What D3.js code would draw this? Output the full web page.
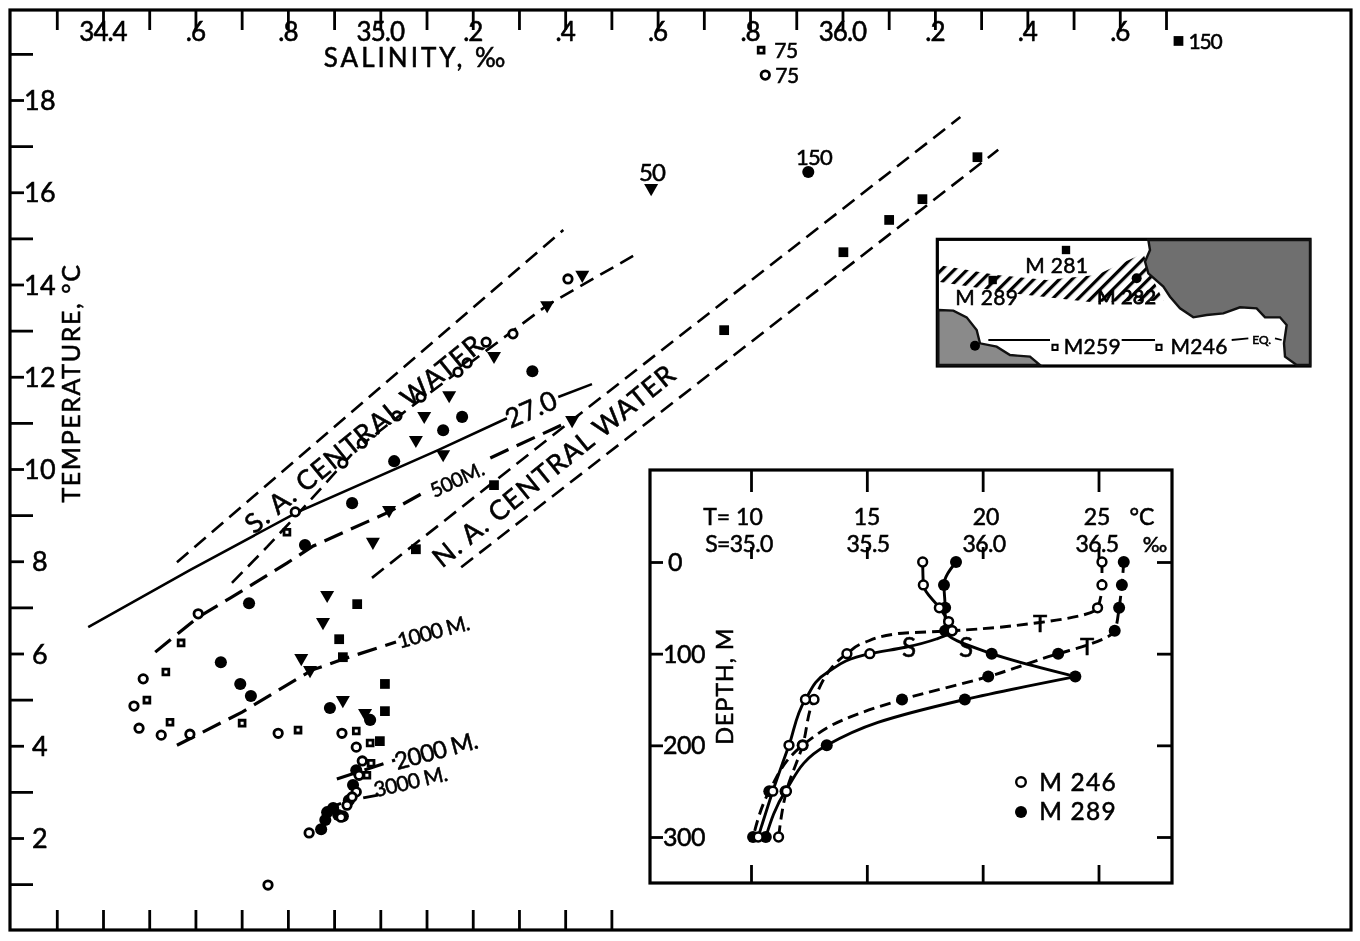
<!DOCTYPE html>
<html><head><meta charset="utf-8">
<style>
html,body{margin:0;padding:0;background:#fff}
svg{display:block;filter:blur(.45px)}
text{font-family:"Lato","Open Sans",sans-serif;fill:#000;stroke:#000;stroke-width:.55px}
.domain{display:none}
</style>
<script src="https://cdn.jsdelivr.net/npm/d3@7/dist/d3.min.js"></script>
</head><body><svg id="c" width="1360" height="941"></svg>
<script>
// ---------- main T-S diagram data: [salinity, temperature]
const salinityTicks=[34.3,34.4,34.5,34.6,34.7,34.8,34.9,35.0,35.1,35.2,35.3,35.4,35.5,35.6,35.7,35.8,35.9,36.0,36.1,36.2,36.3,36.4,36.5,36.6,36.7];
const bottomTicks=[34.3,34.4,34.5,34.6,34.7,34.8,34.9,35.0,35.1,35.2,35.3,35.4,35.5];
const salinityLabels=[[34.4,"34.4"],[34.6,".6"],[34.8,".8"],[35.0,"35.0"],[35.2,".2"],[35.4,".4"],[35.6,".6"],[35.8,".8"],[36.0,"36.0"],[36.2,".2"],[36.4,".4"],[36.6,".6"]];
const tempTicksMajor=[18,16,14,12,10,8,6,4,2];
const tempTicksMinor=[19,17,15,13,11,9,7,5,3,1];

const openCircles=[[34.487,5.45],[34.467,4.86],[34.478,4.38],[34.526,4.23],[34.588,4.25],[34.606,6.86],[34.816,9.07],[34.779,4.27],[34.917,4.27],[34.948,3.97],[34.961,3.67],[34.954,3.36],[34.948,3.0],[34.939,2.89],[34.928,2.71],[34.915,2.45],[34.846,2.11],[34.757,0.98],[34.919,10.13],[34.961,10.56],[35.036,11.15],[35.088,11.56],[35.168,12.10],[35.188,12.30],[35.229,12.75],[35.287,12.93],[35.406,14.12],[35.833,18.54]];
const openSquares=[[34.569,6.23],[34.536,5.60],[34.495,4.99],[34.545,4.51],[34.701,4.49],[34.822,4.34],[34.948,4.32],[34.978,4.06],[34.980,3.62],[34.971,3.36],[34.798,8.63],[35.824,19.08]];
const filledCircles=[[35.329,12.12],[35.177,11.13],[35.136,10.84],[35.030,10.17],[34.939,9.26],[34.837,8.35],[34.716,7.09],[34.655,5.81],[34.697,5.34],[34.720,5.08],[34.891,4.82],[34.978,4.56],[35.926,16.44],[34.872,2.19],[34.881,2.39],[34.885,2.56],[34.898,2.65],[34.909,2.50],[34.919,2.47],[34.932,2.82],[34.941,3.15],[34.948,3.47]];
const filledTriangles=[[35.586,16.09],[35.437,14.21],[35.361,13.55],[35.246,12.45],[35.149,11.60],[35.095,11.15],[35.077,10.63],[35.136,10.32],[35.019,9.11],[34.984,8.42],[34.885,7.27],[34.876,6.68],[34.829,5.90],[34.848,5.64],[34.919,4.99],[34.967,4.71],[35.415,11.06]];
const filledSquares=[[36.727,19.28],[36.292,16.76],[36.173,15.85],[36.101,15.40],[36.002,14.70],[35.744,13.01],[35.246,9.65],[35.077,8.26],[34.950,7.07],[34.911,6.31],[34.919,5.92],[35.010,5.34],[35.010,4.75],[34.999,4.10]];

const saUpper=[[34.560,7.98],[35.396,15.18]];
const saLower=[[34.679,7.53],[34.755,8.31],[34.833,9.15],[34.950,10.45],[35.058,11.28],[35.222,12.51],[35.361,13.55],[35.547,14.62]];
const naUpper=[[34.982,7.64],[35.415,11.06],[36.255,17.63]];
const naLower=[[35.175,7.87],[36.337,16.92]];
const sigmaA=[[34.368,6.57],[34.588,7.81],[34.822,9.07],[35.125,10.41],[35.274,11.10]];
const sigmaB=[[35.385,11.56],[35.458,11.84]];
const m500A=[[34.513,6.03],[34.606,6.79],[34.675,7.20],[34.798,7.96],[34.855,8.33],[35.019,9.07],[35.103,9.54]];
const m500B=[[35.238,10.24],[35.415,11.06]];
const m1000=[[34.560,4.01],[34.701,4.73],[34.852,5.64],[34.926,5.90],[35.034,6.25]];
const m2000=[[34.906,3.28],[35.032,3.69]];
const m3000=[[34.963,2.87],[34.995,2.93]];
const clusterTail=[[34.880,2.62],[34.915,2.75]];

// ---------- inset profile data
const insetDepthTicks=[0,100,200,300];
const insetTempTicks=[10,15,20,25];
const stdDepths=[0,25,50,65,75,100,125,150,200,250,300];
const m246T={d:[0,25,50,66,75,78,88,100,150,200,250,300],v:[25.15,25.15,24.96,22.47,18.68,16.37,14.88,14.14,12.72,12.23,11.53,11.19]};
const m246S={d:[0,25,50,65,75,84,93,100,120,150,200,250,300],v:[35.741,35.744,35.813,35.853,35.868,35.80,35.667,35.513,35.332,35.235,35.164,35.094,35.031]};
const m289T={d:[0,25,50,75,91,100,125,150,172,200,250,300],v:[26.09,26.01,25.89,25.70,24.48,23.26,20.24,16.52,13.99,12.23,10.79,10.09]};
const m289Sa={d:[0,25,50,75,100,125],v:[35.885,35.833,35.838,35.838,36.039,36.400]};
const m289Sb={d:[125,150,175,200,250,300],v:[36.400,35.923,35.548,35.327,35.149,35.064]};

// ---------- inset map outline data (map units)
const landRight=[[655,30],[660,60],[645,95],[655,130],[700,170],[720,200],[750,235],[790,262],[830,255],[880,250],[930,232],[980,235],[1005,262],[1050,262],[1070,285],[1062,340],[1065,380],[1100,405],[1140,405],[1140,30]];
const landLeft=[[25,240],[70,242],[110,262],[140,300],[150,340],[200,350],[240,375],[300,380],[330,405],[25,405]];
const hatchBand=[[25,105],[200,135],[350,150],[500,135],[640,70],[660,130],[700,212],[480,216],[250,190],[25,155]];
const equatorRuns=[[[175,330],[360,330]],[[575,330],[675,330]],[[905,330],[955,325]],[[1035,325],[1055,330]]];
const mapStations=[["M 281",408,60,"fsq",380,130],["M 289",188,150,"fsq",170,226],["M259",375,352,"osq",487,372],["M246",687,352,"osq",807,372]];

// ---------- scales
const x=d3.scaleLinear().domain([34.4,36.7]).range([103,1166]);
const y=d3.scaleLinear().domain([18,2]).range([100,838]);
const svg=d3.select("#c");
svg.append("rect").attr("width",1360).attr("height",941).attr("fill","#fff");
const FL=10,FT=10,FR=1351,FB=930;
svg.append("rect").attr("x",FL).attr("y",FT).attr("width",FR-FL).attr("height",FB-FT).attr("fill","none").attr("stroke","#000").attr("stroke-width",3.2);

function styleAxis(g,w){g.selectAll("line").attr("stroke","#000").attr("stroke-width",w||2.8);g.selectAll("text").remove();}
svg.append("g").attr("transform",`translate(0,${FT})`).call(d3.axisBottom(x).tickValues(salinityTicks).tickSize(20)).call(styleAxis);
svg.append("g").attr("transform",`translate(0,${FB})`).call(d3.axisTop(x).tickValues(bottomTicks).tickSize(20)).call(styleAxis);
svg.append("g").attr("transform",`translate(${FL},0)`).call(d3.axisRight(y).tickValues(tempTicksMajor).tickSize(14)).call(styleAxis);
svg.append("g").attr("transform",`translate(${FL},0)`).call(d3.axisRight(y).tickValues(tempTicksMinor).tickSize(23)).call(styleAxis);

function txt(s,px,py,size,opt){opt=opt||{};
  const t=svg.append("text").attr("x",px).attr("y",py).attr("font-size",size).attr("text-anchor",opt.anchor||"middle").text(s);
  if(opt.rot!==undefined)t.attr("transform",`rotate(${opt.rot} ${px} ${py})`);
  if(opt.ls!==undefined)t.attr("letter-spacing",opt.ls);
  if(opt.sw!==undefined)t.style("stroke-width",opt.sw);
  return t;}

salinityLabels.forEach(d=>txt(d[1],x(d[0]),41,26,{ls:-1}));
tempTicksMajor.forEach(v=>txt(String(v),40,y(v)+10,27,{ls:.3}));
txt("SALINITY,  ‰",416,67,26,{ls:3});
txt("TEMPERATURE, °C",80,383,25,{rot:-90,ls:1.6});

// lines
const line=d3.line().x(d=>x(d[0])).y(d=>y(d[1]));
function lineStroke(data,dash,w,curve){
  const p=svg.append("path").datum(data).attr("d",line.curve(curve||d3.curveLinear)).attr("fill","none").attr("stroke","#000").attr("stroke-width",w||2.6);
  if(dash)p.attr("stroke-dasharray",dash);return p;}
lineStroke(saUpper,"15 8");
lineStroke(saLower,"15 8");
lineStroke(naUpper,"15 8");
lineStroke(naLower,"15 8");
lineStroke(sigmaA,null,2.6);
lineStroke(sigmaB,null,2.6);
lineStroke(m500A,"20 9",3.2);
lineStroke(m500B,"20 9",3.2);
lineStroke(m1000,"20 9",3.2);
lineStroke(m2000,"20 9",3.2);
lineStroke(m3000,null,3);
lineStroke(clusterTail,null,3);

// points
const sym=(type,size)=>d3.symbol().type(type).size(size)();
function points(data,type,size,filled,rot){
  svg.append("g").selectAll("path").data(data).join("path")
    .attr("d",sym(type,size))
    .attr("transform",d=>`translate(${x(d[0])},${y(d[1])})`+(rot?` rotate(${rot})`:""))
    .attr("fill",filled?"#000":"#fff").attr("stroke","#000").attr("stroke-width",filled?0:2.8);}
points(filledCircles,d3.symbolCircle,115,true);
points(filledSquares,d3.symbolSquare,95,true);
points(filledTriangles,d3.symbolTriangle,85,true,180);
points(openSquares,d3.symbolSquare,34,false);
points(openCircles,d3.symbolCircle,56,false);

// annotations
txt("S. A. CENTRAL WATER",370,441,27,{rot:-39,ls:1.2});
txt("N. A. CENTRAL WATER",560,473,27,{rot:-39,ls:1.2});
txt("27.0",535,418,27,{rot:-24,ls:0});
txt("500M.",460,486,20,{rot:-25,ls:-.3});
txt("1000 M.",435,639,21,{rot:-15,ls:-.8});
txt("2000 M.",438,759,24,{rot:-15,ls:-.8});
txt("3000 M.",412,789,21,{rot:-13,ls:-.6});
txt("75",786,58,21,{ls:-.5});
txt("75",787,83,21,{ls:-.5});
txt("150",1205,49,21,{ls:-1.2});
txt("150",814,165,22,{ls:-.8});
txt("50",652,181,24,{ls:-.8});

// ---------- depth-profile inset
const IL=650,IT=470,IR=1172,IB=883;
svg.append("rect").attr("x",IL).attr("y",IT).attr("width",IR-IL).attr("height",IB-IT).attr("fill","#fff").attr("stroke","#000").attr("stroke-width",3.2);
const xT=d3.scaleLinear().domain([10,25]).range([751,1098.5]);
const xS=d3.scaleLinear().domain([35,36.5]).range([751,1098.5]);
const yD=d3.scaleLinear().domain([0,300]).range([562,837]);
svg.append("g").attr("transform",`translate(0,${IT})`).call(d3.axisBottom(xT).tickValues(insetTempTicks).tickSize(22)).call(styleAxis);
svg.append("g").attr("transform",`translate(0,${IB})`).call(d3.axisTop(xT).tickValues(insetTempTicks).tickSize(18)).call(styleAxis);
svg.append("g").attr("transform",`translate(0,559)`).call(d3.axisTop(xT).tickValues(insetTempTicks).tickSize(12)).call(styleAxis);
svg.append("g").attr("transform",`translate(${IL},0)`).call(d3.axisRight(yD).tickValues(insetDepthTicks).tickSize(13)).call(styleAxis);
svg.append("g").attr("transform",`translate(${IR},0)`).call(d3.axisLeft(yD).tickValues(insetDepthTicks).tickSize(15)).call(styleAxis);

txt("T= 10",733,525,23,{ls:0});txt("S=35.0",739,552,23,{ls:-.6});
txt("15",867,525,23);txt("35.5",868,552,23,{ls:-.6});
txt("20",986,525,23);txt("36.0",984,552,23,{ls:-.6});
txt("25",1097,525,23);txt("36.5",1097,552,23,{ls:-.6});
txt("°C",1142,525,23);txt("‰",1155,552,21);
insetDepthTicks.forEach(d=>txt(String(d),d===0?675:684,yD(d)+9,25,{ls:-.5}));
txt("DEPTH,  M",733,686,23,{rot:-90,ls:1.1});
txt("T",1040,632,24);txt("T",1087,655,24);
txt("S",909,657,26);txt("S",966,657,26);

function profile(s,xs,dash){
  const pts=s.d.map((d,i)=>({d,v:s.v[i]}));
  const gen=d3.line().x(p=>xs(p.v)).y(p=>yD(p.d)).curve(d3.curveMonotoneY);
  const p=svg.append("path").attr("d",gen(pts)).attr("fill","none").attr("stroke","#000").attr("stroke-width",2.9);
  if(dash)p.attr("stroke-dasharray",dash);
  return pts.filter(q=>stdDepths.includes(q.d));
}
function marks(pts,xs,filled){
  svg.append("g").selectAll("circle").data(pts).join("circle")
    .attr("cx",p=>xs(p.v)).attr("cy",p=>yD(p.d))
    .attr("r",filled?6:4.4).attr("fill",filled?"#000":"#fff").attr("stroke","#000").attr("stroke-width",filled?0:2.5);}
const p1=profile(m289T,xT,"11 6");
const p2=profile(m289Sa,xS,null).concat(profile(m289Sb,xS,null).slice(1));
const p3=profile(m246T,xT,"11 6");
const p4=profile(m246S,xS,null);
marks(p1,xT,true);marks(p2,xS,true);marks(p3,xT,false);marks(p4,xS,false);

svg.append("circle").attr("cx",1021).attr("cy",782).attr("r",4.8).attr("fill","#fff").attr("stroke","#000").attr("stroke-width",2.4);
svg.append("circle").attr("cx",1021).attr("cy",812).attr("r",6).attr("fill","#000");
txt("M 246",1078,791,24.5,{ls:1.2});
txt("M 289",1078,820,24.5,{ls:1.2});

// ---------- station map inset
const mx=d3.scaleLinear().domain([0,1170]).range([930,1320]);
const my=d3.scaleLinear().domain([0,435]).range([230,375]);
const defs=svg.append("defs");
const pat=defs.append("pattern").attr("id","hatch").attr("patternUnits","userSpaceOnUse").attr("width",9).attr("height",9).attr("patternTransform","rotate(45)");
pat.append("rect").attr("x",0).attr("y",0).attr("width",3.2).attr("height",9).attr("fill","#000");
svg.append("rect").attr("x",mx(22)).attr("y",my(28)).attr("width",mx(1140)-mx(22)).attr("height",my(408)-my(28)).attr("fill","#fff").attr("stroke","#000").attr("stroke-width",3.2);
const poly=d3.line().x(d=>mx(d[0])).y(d=>my(d[1])).curve(d3.curveLinearClosed);
svg.append("path").attr("d",poly(hatchBand)).attr("fill","url(#hatch)");
svg.append("path").attr("d",poly(landRight)).attr("fill","#6f6f6f").attr("stroke","#111").attr("stroke-width",2.4);
svg.append("path").attr("d",poly(landLeft)).attr("fill","#8a8a8a").attr("stroke","#111").attr("stroke-width",2.4);
const seg=d3.line().x(d=>mx(d[0])).y(d=>my(d[1]));
equatorRuns.forEach(r=>svg.append("path").attr("d",seg(r)).attr("stroke","#000").attr("stroke-width",1.8).attr("fill","none"));
svg.append("g").selectAll("path").data(mapStations).join("path")
  .attr("transform",d=>`translate(${mx(d[1])},${my(d[2])})`)
  .attr("d",d=>sym(d3.symbolSquare,d[3]==="fsq"?70:26))
  .attr("fill",d=>d[3]==="fsq"?"#000":"#fff").attr("stroke","#000").attr("stroke-width",d=>d[3]==="fsq"?0:2);
mapStations.forEach(d=>txt(d[0],mx(d[4]),my(d[5]),21,{ls:.3}));
txt("M 282",mx(590),my(222),20,{ls:.2,sw:.9});
txt("EQ.",mx(995),my(342),12,{sw:.6});
svg.append("circle").attr("cx",mx(135)).attr("cy",my(347)).attr("r",5).attr("fill","#000");
svg.append("circle").attr("cx",mx(620)).attr("cy",my(145)).attr("r",5).attr("fill","#000");
</script></body></html>
